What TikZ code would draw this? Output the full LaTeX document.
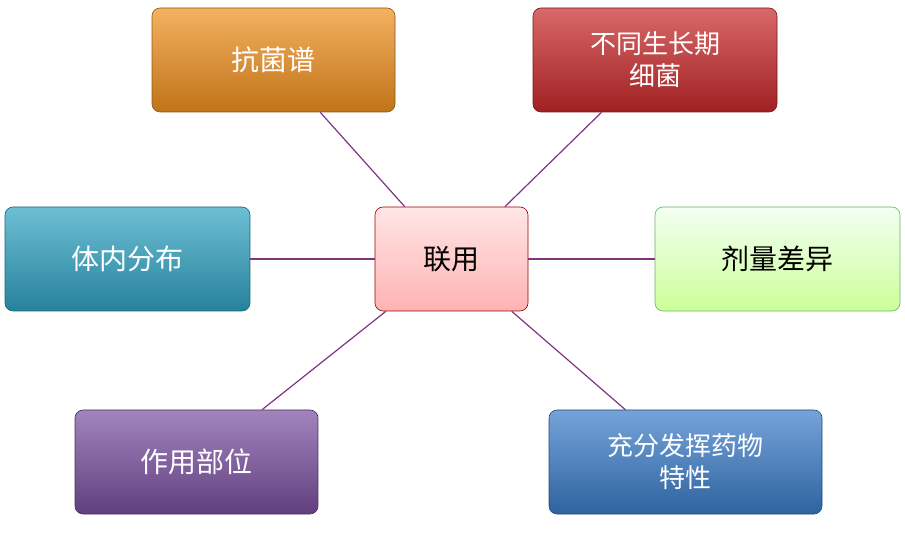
\documentclass[tikz,border=0pt]{standalone}
\usepackage{fontspec}
\setmainfont{Noto Sans CJK SC}
\begin{document}
\begin{tikzpicture}[x=1pt,y=-1pt,
 box/.style={rounded corners=8pt,minimum height=104pt,align=center,font=\fontsize{28}{34}\selectfont,text=white,inner sep=2pt,draw=#1!60!black,line width=0.6pt,top color=#1!70!white,bottom color=#1!80!black},
 link/.style={draw=violet!60!gray,line width=1.2pt}]
\definecolor{cor}{HTML}{F0901E}
\definecolor{cred}{HTML}{C8282A}
\definecolor{cteal}{HTML}{2FA3C2}
\definecolor{cpur}{HTML}{7A4FA0}
\definecolor{cblu}{HTML}{3A7CC8}
\useasboundingbox (0,0) rectangle (905,534);
\node[box=cor,minimum width=243pt] (a) at (273.5,60) {抗菌谱};
\node[box=cred,minimum width=244pt,font=\fontsize{26}{32}\selectfont] (b) at (655,60) {不同生长期\\细菌};
\node[box=cteal,minimum width=245pt] (c) at (127.5,259) {体内分布};
\node[rounded corners=8pt,minimum width=153pt,minimum height=104pt,draw=red!60!black,line width=0.6pt,top color=red!10,bottom color=red!30,font=\fontsize{28}{34}\selectfont] (m) at (451.5,259) {联用};
\node[rounded corners=8pt,minimum width=245pt,minimum height=104pt,draw=green!50!black!60,line width=0.6pt,top color=green!5!white,bottom color=green!50!yellow!40,font=\fontsize{28}{34}\selectfont] (d) at (777.5,259) {剂量差异};
\node[box=cpur,minimum width=243pt] (e) at (196.5,462) {作用部位};
\node[box=cblu,minimum width=273pt,font=\fontsize{26}{32}\selectfont] (f) at (685.5,462) {充分发挥药物\\特性};
\begin{scope}[on background layer/.try]
\end{scope}
\draw[link] (m) -- (a);
\draw[link] (m) -- (b);
\draw[link] (m) -- (c);
\draw[link] (m) -- (d);
\draw[link] (m) -- (e);
\draw[link] (m) -- (f);
\end{tikzpicture}
\end{document}
